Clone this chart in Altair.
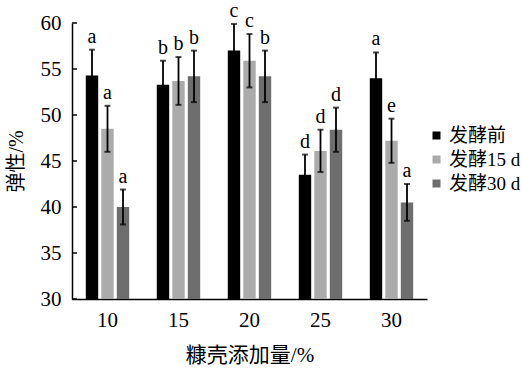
import altair as alt
import pandas as pd

groups = ["10", "15", "20", "25", "30"]
series = ["发酵前", "发酵15 d", "发酵30 d"]
values = {
    "发酵前":   [54.3, 53.3, 57.0, 43.5, 54.0],
    "发酵15 d": [48.5, 53.7, 55.9, 46.1, 47.2],
    "发酵30 d": [40.0, 54.2, 54.2, 48.4, 40.5],
}
errors = {
    "发酵前":   [2.8, 2.6, 2.9, 2.2, 2.8],
    "发酵15 d": [2.5, 2.6, 2.9, 2.3, 2.4],
    "发酵30 d": [1.9, 2.8, 2.8, 2.4, 2.0],
}
letters = {
    "发酵前":   ["a", "b", "c", "d", "a"],
    "发酵15 d": ["a", "b", "c", "d", "e"],
    "发酵30 d": ["a", "b", "b", "d", "a"],
}
colors = ["#000000", "#ababab", "#6e6e6e"]
y_ticks = [30, 35, 40, 45, 50, 55, 60]

rows = []
for s in series:
    for i, g in enumerate(groups):
        v = values[s][i]
        e = errors[s][i]
        rows.append({"group": g, "series": s, "value": v,
                     "lo": v - e, "hi": v + e, "letter": letters[s][i]})
df = pd.DataFrame(rows)
ticks_df = pd.DataFrame({"t": y_ticks})

FONT = "Liberation Serif, Times New Roman, Noto Sans CJK SC"

x = alt.X("group:N", sort=groups, title="糠壳添加量/%",
          scale=alt.Scale(paddingInner=0.345, paddingOuter=0.1725),
          axis=alt.Axis(labelAngle=0, ticks=False, domainColor="black",
                        domainWidth=1.5, labelFontSize=21, labelPadding=10,
                        titleFontSize=21, titlePadding=14, labelColor="black",
                        titleColor="black", titleFontWeight="normal"))
xo = alt.XOffset("series:N", sort=series,
                 scale=alt.Scale(paddingInner=0.2, paddingOuter=0.1))
yscale = alt.Scale(domain=[30, 60], nice=False, zero=False)

base = alt.Chart(df)

bars = base.mark_bar().encode(
    x=x, xOffset=xo,
    y=alt.Y("value:Q", scale=yscale, title="弹性/%",
            axis=alt.Axis(values=y_ticks, ticks=False, grid=False,
                          domainColor="black", domainWidth=1.5,
                          labelFontSize=21, labelPadding=11,
                          titleFontSize=20, titlePadding=14,
                          labelColor="black", titleColor="black",
                          titleFontWeight="normal")),
    y2=alt.datum(30),
    color=alt.Color("series:N", sort=series,
                    scale=alt.Scale(domain=series, range=colors),
                    legend=alt.Legend(title=None, orient="none", legendX=355,
                                      legendY=103, symbolType="square",
                                      symbolSize=64, symbolStrokeWidth=0,
                                      labelFontSize=19, labelOffset=3,
                                      rowPadding=4, labelColor="black")),
)

err = base.mark_rule(color="black", strokeWidth=1.8).encode(
    x=x, xOffset=xo,
    y=alt.Y("lo:Q", scale=yscale), y2="hi:Q")

cap_hi = base.mark_tick(color="black", orient="horizontal", size=6,
                        thickness=2).encode(
    x=x, xOffset=xo, y=alt.Y("hi:Q", scale=yscale))
cap_lo = base.mark_tick(color="black", orient="horizontal", size=6,
                        thickness=2).encode(
    x=x, xOffset=xo, y=alt.Y("lo:Q", scale=yscale))

txt = base.mark_text(baseline="bottom", dy=-3, fontSize=20,
                     color="black").encode(
    x=x, xOffset=xo, y=alt.Y("hi:Q", scale=yscale), text="letter:N")

yticks = alt.Chart(ticks_df).mark_rule(color="black", strokeWidth=1.5).encode(
    y=alt.Y("t:Q", scale=yscale), x=alt.value(0), x2=alt.value(5))

chart = alt.layer(bars, err, cap_hi, cap_lo, txt, yticks).properties(
    width=355, height=276,
    autosize=alt.AutoSizeParams(type="none"),
    padding={"left": 72, "top": 23, "right": 95, "bottom": 77},
).configure(font=FONT).configure_view(stroke=None).configure_text(font=FONT)

chart.save("out.html", embed_options={"renderer": "svg", "actions": False})
